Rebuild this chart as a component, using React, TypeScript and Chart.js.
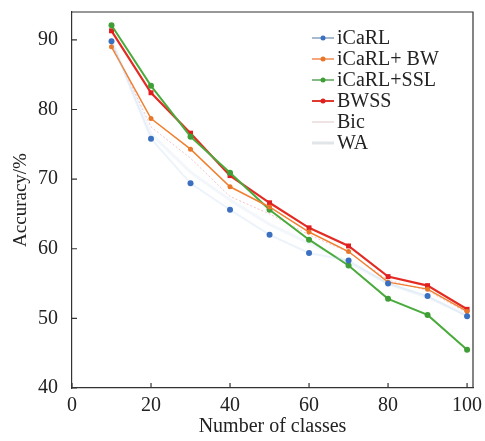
import React, { useEffect, useRef } from "react";
import { Chart, registerables } from "chart.js";

Chart.register(...registerables);

const classes = [10, 20, 30, 40, 50, 60, 70, 80, 90, 100];
const icarl = [89.8, 75.8, 69.4, 65.6, 62.0, 59.4, 58.3, 55.0, 53.2, 50.3];
const icarlBW = [89.0, 78.7, 74.3, 68.9, 66.0, 62.4, 59.6, 55.2, 54.2, 51.0];
const icarlSSL = [92.1, 83.4, 76.1, 70.9, 65.6, 61.3, 57.6, 52.8, 50.5, 45.5];
const bwss = [91.3, 82.4, 76.6, 70.5, 66.6, 63.0, 60.4, 56.0, 54.7, 51.3];
const bic = [89.5, 77.5, 73.0, 67.5, 65.0, 62.0, 59.5, 55.5, 54.0, 50.8];
const wa = [90.0, 76.5, 71.0, 67.0, 63.5, 60.8, 58.0, 55.0, 53.0, 50.5];

const yTicks = [40, 50, 60, 70, 80, 90];
const xTicks = [0, 20, 40, 60, 80, 100];

const seriesLabels = ["iCaRL", "iCaRL+ BW", "iCaRL+SSL", "BWSS", "Bic", "WA"];

const FONT = "'Liberation Serif', 'Times New Roman', serif";

const framePlugin = {
  id: "frameTicks",
  afterDraw(chart: any) {
    const { ctx, chartArea } = chart;
    const { left, right, top, bottom } = chartArea;
    const xs = chart.scales.x;
    const ys = chart.scales.y;
    ctx.save();
    ctx.strokeStyle = "#333";
    ctx.lineWidth = 1.2;
    ctx.beginPath();
    ctx.moveTo(left, top);
    ctx.lineTo(right, top);
    ctx.lineTo(right, bottom);
    ctx.stroke();
    ctx.beginPath();
    xTicks.forEach((v) => {
      const px = xs.getPixelForValue(v);
      ctx.moveTo(px, bottom);
      ctx.lineTo(px, bottom - 5);
    });
    yTicks.forEach((v) => {
      const py = ys.getPixelForValue(v);
      ctx.moveTo(left, py);
      ctx.lineTo(left + 5, py);
    });
    ctx.stroke();

    // legend
    const ds = chart.data.datasets;
    ctx.font = "20px " + FONT;
    ctx.textBaseline = "middle";
    ctx.textAlign = "left";
    ds.forEach((d: any, i: number) => {
      const y = 38 + i * 21;
      ctx.strokeStyle = d.legendColor;
      ctx.lineWidth = d.legendWidth;
      ctx.beginPath();
      ctx.moveTo(312, y);
      ctx.lineTo(334, y);
      ctx.stroke();
      if (d.pointRadius > 0) {
        ctx.fillStyle = d.pointBackgroundColor;
        ctx.beginPath();
        ctx.arc(323, y, 2.5, 0, Math.PI * 2);
        ctx.fill();
      }
      ctx.fillStyle = "#222";
      ctx.fillText(d.label, 337, y + 1);
    });
    ctx.restore();
  },
};

export default function App() {
  const ref = useRef<HTMLCanvasElement>(null);
  useEffect(() => {
    if (!ref.current) return;
    const mk = (vals: number[]) => classes.map((c, i) => ({ x: c, y: vals[i] }));
    const chart = new Chart(ref.current, {
      type: "line",
      data: {
        datasets: [
          {
            label: seriesLabels[0],
            data: mk(icarl),
            borderColor: "rgba(170,200,235,0.22)",
            borderWidth: 2,
            pointRadius: 3,
            pointBackgroundColor: "#3b6fbf",
            pointBorderWidth: 0,
            legendColor: "#8aa3c0",
            legendWidth: 1.5,
          } as any,
          {
            label: seriesLabels[1],
            data: mk(icarlBW),
            borderColor: "#f08030",
            borderWidth: 1.5,
            pointRadius: 2.5,
            pointBackgroundColor: "#e8772a",
            pointBorderWidth: 0,
            legendColor: "#f08a50",
            legendWidth: 1.5,
          } as any,
          {
            label: seriesLabels[2],
            data: mk(icarlSSL),
            borderColor: "#4aab3c",
            borderWidth: 2,
            pointRadius: 3,
            pointBackgroundColor: "#3f9e35",
            pointBorderWidth: 0,
            legendColor: "#5aa55a",
            legendWidth: 1.5,
          } as any,
          {
            label: seriesLabels[3],
            data: mk(bwss),
            borderColor: "#e32b24",
            borderWidth: 2.2,
            pointRadius: 3.5,
            pointStyle: "rect",
            pointBackgroundColor: "#e02020",
            pointBorderWidth: 0,
            legendColor: "#e03a30",
            legendWidth: 2,
          } as any,
          {
            label: seriesLabels[4],
            data: mk(bic),
            borderColor: "rgba(230,120,140,0.45)",
            borderWidth: 1,
            borderDash: [2, 2],
            pointRadius: 0,
            pointBackgroundColor: "transparent",
            legendColor: "rgba(200,160,160,0.6)",
            legendWidth: 1,
          } as any,
          {
            label: seriesLabels[5],
            data: mk(wa),
            borderColor: "rgba(190,210,235,0.18)",
            borderWidth: 3,
            pointRadius: 0,
            pointBackgroundColor: "transparent",
            legendColor: "rgba(180,190,200,0.4)",
            legendWidth: 3,
          } as any,
        ],
      },
      options: {
        animation: false,
        responsive: true,
        maintainAspectRatio: false,
        layout: { padding: { left: 0, top: 12, right: 12, bottom: 0 } },
        plugins: { legend: { display: false }, tooltip: { enabled: false } },
        scales: {
          x: {
            type: "linear",
            min: 0,
            max: 101.5,
            afterFit: (s: any) => {
              s.height = 53;
              s.paddingLeft = 0;
              s.paddingRight = 0;
            },
            afterBuildTicks: (s: any) => {
              s.ticks = xTicks.map((v) => ({ value: v }));
            },
            grid: { display: false, drawTicks: false },
            border: { display: true, color: "#333", width: 1.2 },
            ticks: {
              color: "#222",
              font: { family: FONT, size: 20 },
              padding: 6,
              maxRotation: 0,
            },
            title: {
              display: true,
              text: "Number of classes",
              color: "#222",
              font: { family: FONT, size: 20 },
              padding: { top: 0, bottom: 2 },
            },
          },
          y: {
            type: "linear",
            min: 40,
            max: 94,
            afterFit: (s: any) => {
              s.width = 72;
              s.paddingTop = 0;
              s.paddingBottom = 0;
            },
            afterBuildTicks: (s: any) => {
              s.ticks = yTicks.map((v) => ({ value: v }));
            },
            grid: { display: false, drawTicks: false },
            border: { display: true, color: "#333", width: 1.2 },
            ticks: {
              color: "#222",
              font: { family: FONT, size: 20 },
              padding: 14,
            },
            title: {
              display: true,
              text: "Accuracy/%",
              color: "#222",
              font: { family: FONT, size: 19 },
              padding: { top: 10, bottom: 0 },
            },
          },
        },
      },
      plugins: [framePlugin],
    });
    return () => chart.destroy();
  }, []);
  return (
    <div style={{ position: "fixed", left: 0, top: 0, width: 485, height: 441, background: "#fff" }}>
      <canvas ref={ref} />
    </div>
  );
}
